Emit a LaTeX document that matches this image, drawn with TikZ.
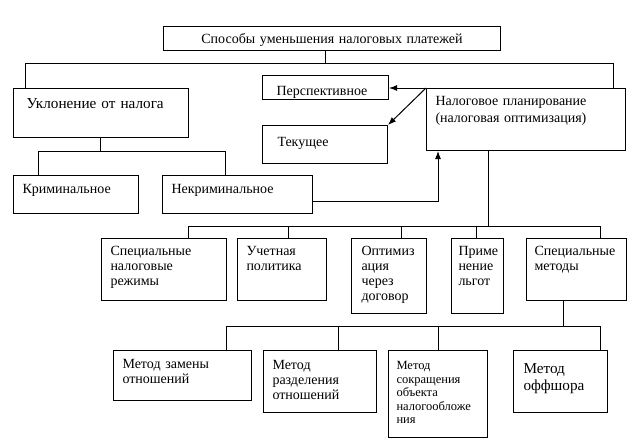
\documentclass[tikz,border=0pt]{standalone}
\usepackage{fontspec}
\setmainfont{Liberation Serif}
\usepackage{tikz}
\usetikzlibrary{arrows.meta}

\newcommand{\fnorm}{\fontsize{14}{15}\selectfont}
\newcommand{\fbig}{\fontsize{15.2}{17}\selectfont}
\newcommand{\fsmall}{\fontsize{12.5}{13.5}\selectfont}

\tikzset{
  box/.style={draw, anchor=north west, align=left, inner ysep=0pt, inner xsep=9pt, font=\fnorm},
  arr/.style={-{Latex[length=8pt,width=6pt]}}
}

\begin{document}
\begin{tikzpicture}[x=1pt,y=-1pt,line width=1pt]
      \useasboundingbox (0,0) rectangle (639,439);
      % top level
      \node[box,align=center,inner xsep=0pt,text width=337,text height=17,text depth=7] (title) at (163,26) {Способы уменьшения налоговых платежей};
      \node[box,font=\fbig,inner xsep=13pt,text width=149,text height=20,text depth=29] (ukl) at (13,88) {Уклонение от налога};
      \node[box,text width=107,text height=18,text depth=20] (krim) at (13,175) {Криминальное};
      \node[box,text width=132,text height=18,text depth=20] (nekrim) at (162,175) {Некриминальное};
      \node[box,inner xsep=14pt,text width=98,text height=20,text depth=4] (persp) at (262,75) {Перспективное};
      \node[box,inner xsep=15pt,text width=95,text height=21,text depth=17] (tek) at (262,125) {Текущее};
      \node[box,font=\fontsize{14}{17}\selectfont,text width=181,text height=17,text depth=45] (nalog) at (426,88) {Налоговое планирование\\(налоговая оптимизация)};

      % second level
      \node[box,text width=107,text height=17,text depth=45] (s1) at (101,238) {Специальные\\налоговые\\режимы};
      \node[box,text width=71,text height=17,text depth=45] (s2) at (237,238) {Учетная\\политика};
      \node[box,inner xsep=10pt,text width=55,text height=17,text depth=58] (s3) at (351,238) {Оптимиз\\ация\\через\\договор};
      \node[box,inner xsep=7pt,text width=38,text height=17,text depth=58] (s4) at (451,238) {Приме\\нение\\льгот};
      \node[box,inner xsep=8pt,text width=84,text height=17,text depth=45] (s5) at (526,238) {Специальные\\методы};

      % methods
      \node[box,text width=120,text height=18,text depth=32] (m1) at (113,350) {Метод замены\\отношений};
      \node[box,text width=95,text height=19,text depth=43] (m2) at (263,350) {Метод\\разделения\\отношений};
      \node[box,font=\fsmall,inner xsep=8pt,text width=83,text height=19,text depth=68] (m3) at (388,350) {Метод\\сокращения\\объекта\\налогообложе\\ния};
      \node[box,font=\fbig,inner xsep=10pt,text width=74,text height=23,text depth=39] (m4) at (513,350) {Метод\\оффшора};

      % bus lines
      \coordinate (t0) at (325,63);
      \coordinate (l0) at (25,63);
      \coordinate (r0) at (613,63);
      \draw (title.south -| t0) -- (t0);
      \draw (ukl.north -| l0) -- (l0) -- (r0) -- (nalog.north -| r0);

      \coordinate (u0) at (100,151);
      \coordinate (u1) at (38,151);
      \coordinate (u2) at (225,151);
      \draw (ukl.south -| u0) -- (u0);
      \draw (krim.north -| u1) -- (u1) -- (u2) -- (nekrim.north -| u2);

      \draw[arr] (nalog.north west) -- (nalog.north west -| persp.east);
      \draw[arr] (nalog.north west) -- (tek.north east);
      \draw[arr] (nekrim.-5) -| ([xshift=12pt]nalog.south west);

      \coordinate (p0) at (488,226);
      \draw (nalog.south -| p0) -- (p0);
      \foreach \n/\x in {s1/188,s2/288,s3/401,s4/476,s5/600}{
        \coordinate (d\n) at (\x,226);
        \draw (d\n) -- (\n.north -| d\n);
      }
      \draw (ds1) -- (ds5);

      \coordinate (q0) at (563,326);
      \draw (s5.south -| q0) -- (q0);
      \foreach \n/\x in {m1/226,m2/338,m3/438,m4/600}{
        \coordinate (d\n) at (\x,326);
        \draw (d\n) -- (\n.north -| d\n);
      }
      \draw (dm1) -- (dm4);
    \end{tikzpicture}
\end{document}
